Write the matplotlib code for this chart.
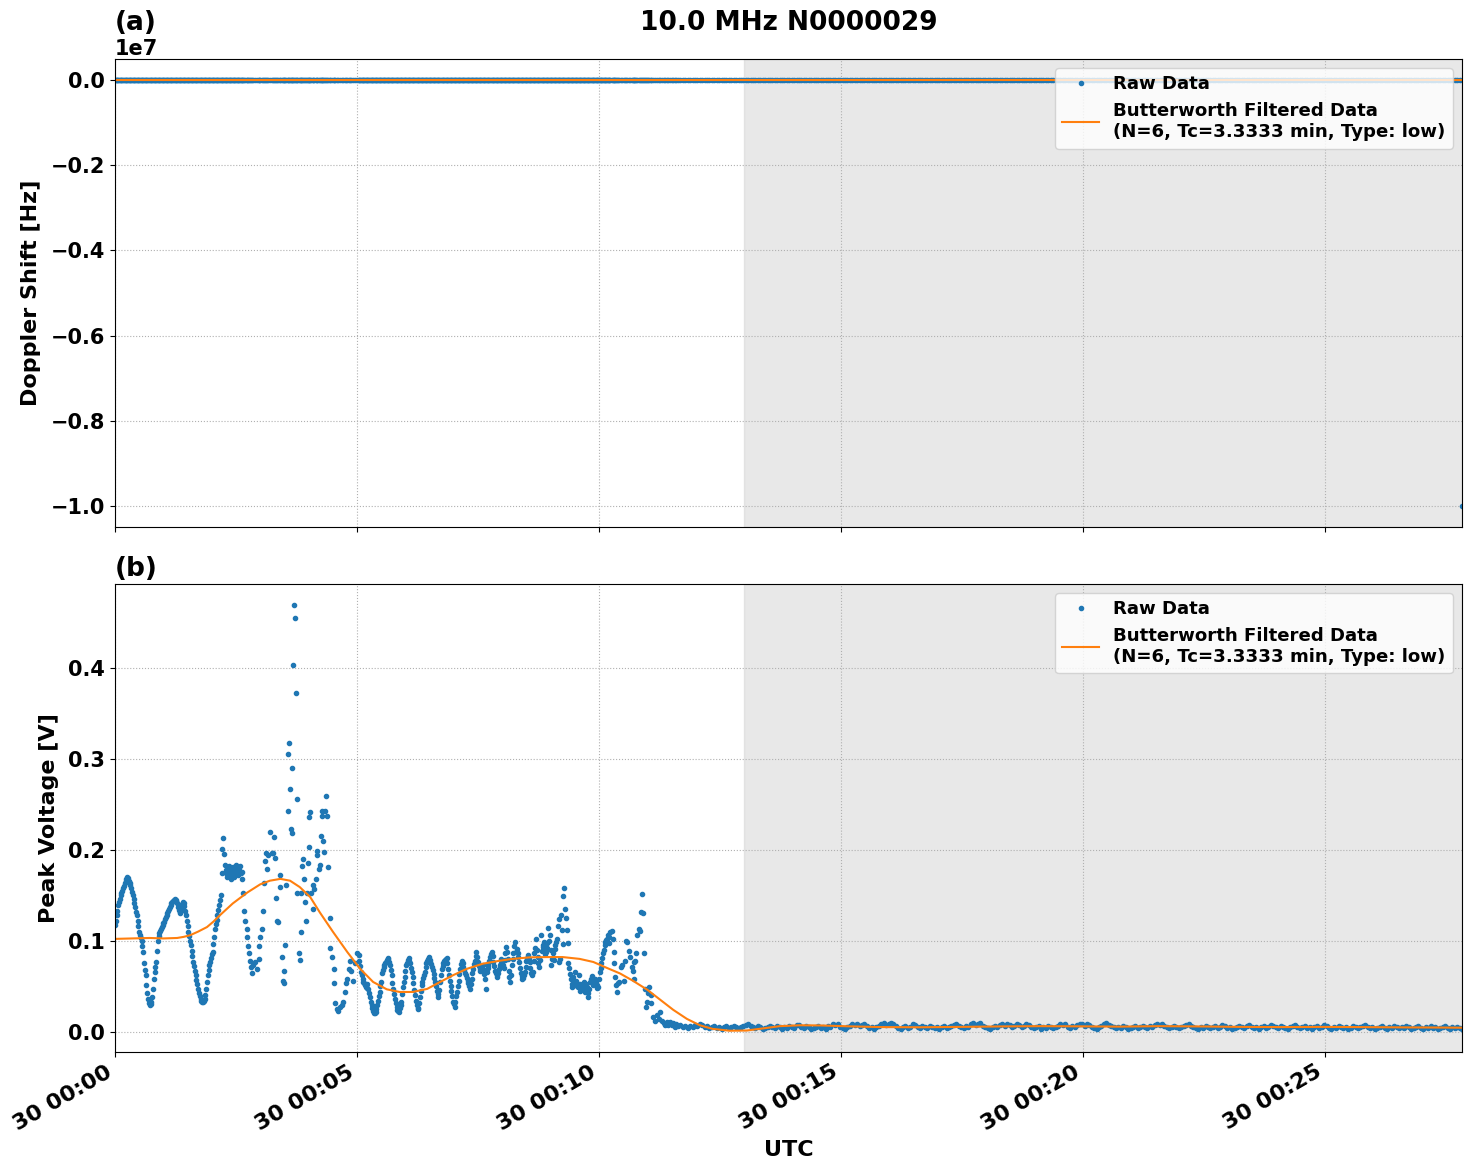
import matplotlib
matplotlib.use('Agg')
import matplotlib.pyplot as plt
import matplotlib.dates as mdates
import numpy as np
import pandas as pd

# --- raw peak voltage (volts), times in seconds after 00:00 UTC ---

# smooth swings at the start, one reading per second from 0 s
smooth1_start = 0
smooth1_volt = [
    0.117, 0.122, 0.128, 0.133, 0.139, 0.143, 0.146, 0.150, 0.153, 0.155, 0.158, 0.160, 0.163, 0.166, 0.168, 0.170,
    0.169, 0.166, 0.164, 0.161, 0.158, 0.154, 0.150, 0.146, 0.141, 0.137, 0.132, 0.128, 0.122, 0.116, 0.110, 0.106,
    0.103, 0.100, 0.094, 0.088, 0.075, 0.068, 0.062, 0.051, 0.043, 0.036, 0.031, 0.029, 0.030, 0.033, 0.038, 0.047,
    0.058, 0.066, 0.071, 0.077, 0.089, 0.100, 0.105, 0.109, 0.111, 0.113, 0.115, 0.117, 0.119, 0.121, 0.124, 0.126,
    0.128, 0.130, 0.133, 0.135, 0.137, 0.139, 0.141, 0.143, 0.144, 0.145, 0.146, 0.145, 0.144, 0.141, 0.137, 0.134,
    0.132, 0.131, 0.136, 0.140, 0.143, 0.142, 0.138, 0.133, 0.128, 0.122, 0.116, 0.110, 0.105, 0.100, 0.095, 0.089,
    0.083, 0.077, 0.072, 0.067, 0.062, 0.057, 0.052, 0.047, 0.043, 0.039, 0.036, 0.034, 0.033, 0.033, 0.034, 0.036,
    0.040, 0.047, 0.055, 0.062, 0.068, 0.073, 0.077, 0.081, 0.085, 0.088, 0.096, 0.104, 0.113, 0.118, 0.123, 0.128,
    0.134, 0.139, 0.145, 0.150,
]

# scattered burst around 00:02-00:05
burst_sec = [
    132, 133, 134, 135, 136, 137, 138, 139, 140, 141, 142, 143, 144, 145, 146, 147, 148, 149, 150, 151,
    152, 153, 154, 155, 156, 157, 158, 159, 160, 161, 163, 164, 165, 166, 167, 169, 170, 171, 174, 176,
    178, 179, 180, 182, 184, 185, 186, 187, 188, 190, 192, 194, 196, 197, 198, 200, 201, 202, 204, 205,
    207, 208, 209, 210, 211, 212, 214, 215, 216, 217, 218, 219, 220, 221, 222, 223, 224, 225,
    226, 228, 229, 230, 231, 232, 233, 234, 235, 237, 238, 239, 240, 241, 242, 243, 245, 246,
    247, 249, 250, 251, 253, 254, 255, 256, 257, 258, 259, 260, 262, 263, 264, 266, 267, 269,
    271, 272, 273, 275, 277, 279, 281, 283, 285, 286, 288, 290, 291, 293, 295, 297, 300, 302,
]
burst_volt = [
    0.175, 0.201, 0.213, 0.195, 0.183, 0.178, 0.174, 0.170, 0.176, 0.182, 0.172, 0.179, 0.168, 0.176, 0.181, 0.174, 0.170, 0.177, 0.183, 0.179,
    0.172, 0.180, 0.178, 0.182, 0.174, 0.176, 0.168, 0.152, 0.133, 0.122, 0.113, 0.104, 0.094, 0.086, 0.078, 0.071, 0.064, 0.073, 0.077, 0.069,
    0.080, 0.094, 0.104, 0.113, 0.133, 0.163, 0.188, 0.196, 0.179, 0.194, 0.220, 0.196, 0.197, 0.214, 0.191, 0.147, 0.122, 0.121, 0.159, 0.172,
    0.082, 0.056, 0.053, 0.067, 0.095, 0.161, 0.243, 0.305, 0.318, 0.267, 0.223, 0.218, 0.290, 0.403, 0.469, 0.455, 0.373, 0.256,
    0.152, 0.087, 0.079, 0.110, 0.152, 0.182, 0.190, 0.168, 0.143, 0.122, 0.153, 0.186, 0.203, 0.236, 0.242, 0.152, 0.135, 0.161,
    0.157, 0.168, 0.194, 0.199, 0.179, 0.183, 0.215, 0.243, 0.237, 0.210, 0.198, 0.243, 0.259, 0.237, 0.181, 0.125, 0.092, 0.082,
    0.069, 0.053, 0.032, 0.025, 0.023, 0.027, 0.029, 0.033, 0.044, 0.053, 0.058, 0.069, 0.078, 0.067, 0.056, 0.075, 0.086, 0.084,
]

# regular swings 00:05-00:07:40, one reading per second from 303 s
smooth2_start = 303
smooth2_volt = [
    0.078, 0.072, 0.066, 0.062, 0.058, 0.055, 0.053, 0.051, 0.049, 0.052, 0.048, 0.047, 0.042, 0.038, 0.033, 0.029,
    0.026, 0.023, 0.021, 0.020, 0.022, 0.025, 0.029, 0.034, 0.039, 0.044, 0.050, 0.055, 0.064, 0.068, 0.071, 0.073,
    0.075, 0.077, 0.079, 0.080, 0.081, 0.077, 0.073, 0.068, 0.062, 0.054, 0.047, 0.041, 0.036, 0.031, 0.027, 0.024,
    0.023, 0.022, 0.026, 0.029, 0.033, 0.041, 0.049, 0.055, 0.060, 0.067, 0.073, 0.076, 0.079, 0.081, 0.078, 0.075,
    0.070, 0.066, 0.060, 0.053, 0.046, 0.040, 0.034, 0.029, 0.026, 0.025, 0.031, 0.038, 0.045, 0.051, 0.055, 0.059,
    0.062, 0.066, 0.071, 0.075, 0.078, 0.080, 0.082, 0.079, 0.077, 0.074, 0.071, 0.068, 0.063, 0.059, 0.055, 0.050,
    0.045, 0.041, 0.038, 0.046, 0.055, 0.062, 0.069, 0.072, 0.075, 0.078, 0.079, 0.080, 0.081, 0.075, 0.069, 0.062,
    0.056, 0.050, 0.045, 0.039, 0.033, 0.030, 0.027, 0.033, 0.039, 0.044, 0.050, 0.056, 0.063, 0.069, 0.074, 0.078,
    0.075, 0.071, 0.068, 0.065, 0.062, 0.059, 0.056, 0.053, 0.050, 0.047, 0.052, 0.058, 0.064, 0.069, 0.074, 0.078,
    0.083, 0.088, 0.082, 0.077, 0.072, 0.067, 0.069, 0.071, 0.072, 0.073, 0.068, 0.063, 0.058,
]

# noisy plateau and fade-out 00:07:40-00:11:36
fade_sec = [
    460, 461, 463, 465, 467, 469, 471, 473, 475, 477, 479, 481, 484, 485, 487, 488, 490, 491,
    492, 494, 496, 498, 499, 501, 503, 505, 507, 509, 512, 514, 516, 518, 520, 522, 524, 526,
    528, 530, 532, 534, 536, 537, 539, 541, 543, 545, 548, 549, 550, 553, 554, 556, 557, 558,
    559, 561, 562, 564, 566, 568, 570, 572, 574, 576, 579, 581, 583, 585, 587, 589, 591, 593,
    595, 597, 599, 601, 603, 605, 607, 610, 612, 613,
    462, 464, 466, 468, 470, 472, 474, 476, 478, 480, 482, 483, 486, 489, 493, 495, 497, 500,
    502, 504, 506, 508, 510, 511, 513, 515, 517, 519, 521, 523, 525, 527, 529, 531, 533, 535,
    538, 540, 542, 544, 546, 547, 551, 552, 555, 560, 563, 565, 567, 569, 571, 573, 575, 577,
    578, 580, 582, 584, 586, 588, 590, 592, 594, 596, 598, 600, 602, 604, 606, 608, 609, 611,
    614, 616, 617, 618, 619, 620, 621, 622, 623, 625, 627, 629, 631, 632, 634, 635, 637, 638,
    641, 642, 643, 644, 645, 646, 647, 649, 651, 652, 653, 655, 656, 657, 658, 660, 661, 662,
    664, 665, 667, 669, 672, 674, 676, 678, 680, 682, 684, 686, 688, 690, 692, 694, 696,
]
fade_volt = [
    0.047, 0.066, 0.073, 0.082, 0.088, 0.077, 0.067, 0.062, 0.064, 0.073, 0.080, 0.073, 0.086, 0.093, 0.080, 0.067, 0.055, 0.062,
    0.073, 0.086, 0.099, 0.091, 0.086, 0.077, 0.064, 0.058, 0.062, 0.071, 0.084, 0.077, 0.064, 0.066, 0.086, 0.102, 0.082, 0.071,
    0.106, 0.095, 0.099, 0.088, 0.097, 0.114, 0.106, 0.073, 0.086, 0.091, 0.102, 0.116, 0.124, 0.128, 0.112, 0.149, 0.158, 0.135,
    0.125, 0.097, 0.075, 0.063, 0.049, 0.060, 0.066, 0.056, 0.049, 0.045, 0.051, 0.055, 0.044, 0.049, 0.038, 0.055, 0.061, 0.051,
    0.058, 0.051, 0.049, 0.066, 0.075, 0.086, 0.095, 0.102, 0.097, 0.104,
    0.070, 0.078, 0.085, 0.083, 0.072, 0.064, 0.060, 0.069, 0.076, 0.078, 0.070, 0.079, 0.088, 0.060, 0.080, 0.094, 0.088, 0.082,
    0.070, 0.061, 0.059, 0.066, 0.078, 0.081, 0.080, 0.070, 0.062, 0.078, 0.092, 0.090, 0.076, 0.079, 0.089, 0.093, 0.085, 0.092,
    0.100, 0.090, 0.080, 0.079, 0.095, 0.099, 0.077, 0.080, 0.096, 0.112, 0.070, 0.058, 0.052, 0.055, 0.055, 0.050, 0.062, 0.052,
    0.047, 0.050, 0.048, 0.052, 0.043, 0.047, 0.058, 0.055, 0.054, 0.056, 0.048, 0.058, 0.070, 0.081, 0.090, 0.099, 0.101, 0.106,
    0.110, 0.111, 0.102, 0.088, 0.075, 0.060, 0.051, 0.044, 0.053, 0.055, 0.071, 0.073, 0.056, 0.078, 0.100, 0.099, 0.089, 0.082,
    0.071, 0.067, 0.077, 0.058, 0.078, 0.086, 0.106, 0.113, 0.111, 0.132, 0.151, 0.130, 0.087, 0.047, 0.027, 0.033, 0.042, 0.049,
    0.040, 0.031, 0.016, 0.012, 0.018, 0.014, 0.022, 0.012, 0.009, 0.007, 0.011, 0.007, 0.011, 0.007, 0.009, 0.005, 0.008,
]

# quiet part after the fade-out, one reading every 3 s from 698 s to 1670 s
tail_start_sec = 698
tail_step_sec = 3
tail_volt = [
    0.006, 0.007, 0.005, 0.006, 0.004, 0.006, 0.005, 0.007, 0.006, 0.008, 0.007, 0.005, 0.006,
    0.004, 0.005, 0.006, 0.004, 0.005, 0.003, 0.005, 0.006, 0.004, 0.005, 0.006, 0.005, 0.004,
    0.005, 0.006, 0.007, 0.008, 0.006, 0.005, 0.004, 0.006, 0.005, 0.003, 0.004, 0.005, 0.006,
    0.005, 0.004, 0.006, 0.005, 0.003, 0.005, 0.004, 0.006, 0.005, 0.004, 0.007, 0.007, 0.005,
    0.004, 0.006, 0.005, 0.003, 0.004, 0.005, 0.006, 0.004, 0.005, 0.003, 0.006, 0.005, 0.008,
    0.007, 0.008, 0.005, 0.004, 0.003, 0.005, 0.006, 0.008, 0.007, 0.008, 0.006, 0.007, 0.008,
    0.006, 0.004, 0.005, 0.003, 0.005, 0.006, 0.008, 0.009, 0.007, 0.008, 0.009, 0.008, 0.006,
    0.004, 0.003, 0.005, 0.006, 0.004, 0.005, 0.008, 0.007, 0.005, 0.004, 0.006, 0.005, 0.004,
    0.006, 0.005, 0.004, 0.005, 0.003, 0.005, 0.006, 0.004, 0.005, 0.006, 0.007, 0.008, 0.006,
    0.005, 0.004, 0.006, 0.005, 0.008, 0.009, 0.007, 0.008, 0.009, 0.006, 0.005, 0.004, 0.003,
    0.005, 0.006, 0.005, 0.007, 0.008, 0.006, 0.008, 0.007, 0.005, 0.006, 0.008, 0.007, 0.005,
    0.006, 0.008, 0.007, 0.005, 0.004, 0.005, 0.006, 0.003, 0.005, 0.004, 0.006, 0.005, 0.004,
    0.005, 0.006, 0.008, 0.007, 0.008, 0.005, 0.004, 0.006, 0.005, 0.007, 0.008, 0.008, 0.006,
    0.008, 0.007, 0.005, 0.004, 0.003, 0.005, 0.006, 0.008, 0.009, 0.007, 0.006, 0.005, 0.004,
    0.005, 0.004, 0.006, 0.005, 0.003, 0.004, 0.005, 0.006, 0.004, 0.005, 0.006, 0.005, 0.004,
    0.006, 0.005, 0.007, 0.008, 0.007, 0.008, 0.006, 0.005, 0.004, 0.005, 0.006, 0.005, 0.004,
    0.005, 0.006, 0.007, 0.008, 0.006, 0.005, 0.004, 0.003, 0.005, 0.004, 0.006, 0.005, 0.004,
    0.005, 0.006, 0.004, 0.005, 0.007, 0.006, 0.004, 0.005, 0.003, 0.004, 0.005, 0.006, 0.005,
    0.004, 0.006, 0.007, 0.005, 0.004, 0.005, 0.003, 0.005, 0.006, 0.004, 0.005, 0.007, 0.006,
    0.005, 0.004, 0.006, 0.005, 0.004, 0.003, 0.005, 0.006, 0.007, 0.005, 0.004, 0.005, 0.006,
    0.004, 0.005, 0.003, 0.005, 0.006, 0.004, 0.005, 0.007, 0.006, 0.004, 0.003, 0.005, 0.004,
    0.006, 0.005, 0.004, 0.005, 0.003, 0.004, 0.006, 0.005, 0.004, 0.005, 0.006, 0.007, 0.005,
    0.004, 0.005, 0.003, 0.004, 0.005, 0.006, 0.004, 0.003, 0.005, 0.004, 0.006, 0.005, 0.004,
    0.005, 0.004, 0.006, 0.005, 0.003, 0.004, 0.005, 0.006, 0.004, 0.003, 0.005, 0.004, 0.006,
    0.004, 0.005, 0.003, 0.004, 0.005, 0.006, 0.004, 0.003, 0.005, 0.004, 0.005, 0.004, 0.003,
]

# butterworth low-pass output
filt_sec = [
    0, 43, 60, 77, 85, 93, 103, 114, 122, 130, 146, 164, 180, 192, 205, 217, 229, 242, 254, 270,
    288, 304, 320, 337, 353, 369, 387, 403, 419, 436, 456, 477, 493, 514, 536, 555, 576, 593, 610, 626,
    642, 660, 676, 692, 709, 725, 741, 762, 783, 803, 824, 849, 874, 911, 948, 998, 1048, 1097, 1147, 1196,
    1246, 1295, 1345, 1395, 1444, 1494, 1543, 1593, 1643, 1670,
]
filt_volt = [
    0.102, 0.103, 0.1025, 0.103, 0.1042, 0.106, 0.110, 0.115, 0.121, 0.128, 0.141, 0.153, 0.162, 0.166, 0.168, 0.166, 0.159, 0.148, 0.131, 0.110,
    0.0875, 0.069, 0.0546, 0.0465, 0.0436, 0.0436, 0.047, 0.0546, 0.062, 0.069, 0.0747, 0.078, 0.080, 0.0817, 0.082, 0.082, 0.080, 0.0766, 0.070, 0.064,
    0.056, 0.046, 0.035, 0.024, 0.014, 0.007, 0.003, 0.001, 0.0012, 0.0035, 0.006, 0.007, 0.0068, 0.0058, 0.005, 0.0048, 0.0052, 0.0057, 0.006, 0.0058,
    0.0055, 0.006, 0.0057, 0.0052, 0.005, 0.0052, 0.005, 0.0047, 0.0045, 0.0043,
]

# doppler shift sits at ~0 Hz on this scale; the very last sample is a -1e7 Hz dropout
doppler_outlier_hz = -1.0e7
shade_start_min = 13

base = pd.Timestamp('2024-09-30 00:00:00')

def parse():
    sec = np.concatenate([
        smooth1_start + np.arange(len(smooth1_volt)),
        burst_sec,
        smooth2_start + np.arange(len(smooth2_volt)),
        fade_sec,
        tail_start_sec + tail_step_sec * np.arange(len(tail_volt)),
    ])
    volt = np.concatenate([smooth1_volt, burst_volt, smooth2_volt, fade_volt, tail_volt])
    order = np.argsort(sec, kind='stable')
    sec = sec[order]
    volt = volt[order]

    t = base + pd.to_timedelta(sec, unit='s')
    ft = base + pd.to_timedelta(np.array(filt_sec), unit='s')

    doppler = np.zeros(len(sec))
    doppler[-1] = doppler_outlier_hz
    doppler_filt = np.zeros(len(filt_sec))
    return t, volt, ft, np.array(filt_volt), doppler, doppler_filt

def __main__():
    t, volt, ft, fvolt, doppler, doppler_filt = parse()

    plt.rcParams['font.weight'] = 'bold'
    plt.rcParams['axes.labelweight'] = 'bold'
    plt.rcParams['axes.titleweight'] = 'bold'

    fig, (ax1, ax2) = plt.subplots(2, 1, sharex=True, figsize=(14.71, 11.72))
    filt_label = 'Butterworth Filtered Data\n(N=6, Tc=3.3333 min, Type: low)'

    ax1.plot(t, doppler, '.', color='C0', label='Raw Data')
    ax1.plot(ft, doppler_filt, '-', color='C1', label=filt_label)
    ax1.set_ylabel('Doppler Shift [Hz]', fontsize=16, labelpad=7)
    ax1.set_title('10.0 MHz N0000029', fontsize=19)
    ax1.set_title('(a)', loc='left', fontsize=19)

    ax2.plot(t, volt, '.', color='C0', label='Raw Data')
    ax2.plot(ft, fvolt, '-', color='C1', label=filt_label)
    ax2.set_ylabel('Peak Voltage [V]', fontsize=16, labelpad=7)
    ax2.set_xlabel('UTC', fontsize=16)
    ax2.set_title('(b)', loc='left', fontsize=19)

    shade0 = base + pd.Timedelta(minutes=shade_start_min)
    for ax in (ax1, ax2):
        ax.axvspan(shade0, t[-1], color='lightgray', alpha=0.5)
        ax.grid(True, linestyle=':')
        ax.legend(loc='upper right', fontsize=13.1)
        ax.tick_params(axis='y', labelsize=15)
        ax.tick_params(axis='x', labelsize=16)
        ax.yaxis.get_offset_text().set_fontsize(15)

    ax2.set_xlim(t[0], t[-1])
    ax2.xaxis.set_major_locator(mdates.MinuteLocator(byminute=range(0, 60, 5)))
    ax2.xaxis.set_major_formatter(mdates.DateFormatter('%d %H:%M'))
    fig.autofmt_xdate(bottom=0.1024)
    fig.subplots_adjust(left=0.0782, right=0.9939, top=0.9497, bottom=0.1024, hspace=0.1217)

    fig.savefig('out.png', dpi=100)

if(__name__ == "__main__"):
    __main__()
